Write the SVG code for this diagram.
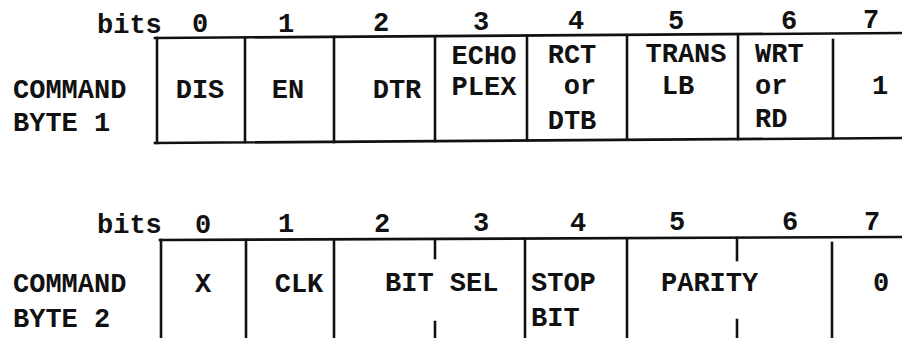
<svg xmlns="http://www.w3.org/2000/svg" width="902" height="338" viewBox="0 0 902 338">
<style>
text{font-family:"Liberation Mono","Courier New",monospace;font-weight:bold;font-size:27px;fill:#111}
.m{text-anchor:middle}
.ln{stroke:#111;stroke-width:2.6;fill:none;stroke-linecap:square}
</style>
<rect width="902" height="338" fill="#fff"/>
<g id="byte1">
  <g id="labels1">
    <text x="97" y="33">bits</text>
    <text class="m" x="200" y="32">0</text>
    <text class="m" x="286" y="32">1</text>
    <text class="m" x="381" y="31">2</text>
    <text class="m" x="481" y="30">3</text>
    <text class="m" x="576" y="29">4</text>
    <text class="m" x="676" y="29">5</text>
    <text class="m" x="789" y="29">6</text>
    <text class="m" x="871" y="28">7</text>
    <text x="13" y="98">COMMAND</text>
    <text x="13" y="131">BYTE 1</text>
  </g>
  <g id="frame1" class="ln">
    <line x1="155" y1="38" x2="902" y2="33"/>
    <line x1="155" y1="143" x2="902" y2="138"/>
    <line x1="157" y1="38" x2="157" y2="143"/>
    <line x1="245" y1="38" x2="245" y2="142"/>
    <line x1="334" y1="37" x2="334" y2="142"/>
    <line x1="435" y1="37" x2="435" y2="141"/>
    <line x1="527" y1="36" x2="527" y2="140"/>
    <line x1="627" y1="36" x2="627" y2="139"/>
    <line x1="738" y1="35" x2="738" y2="139"/>
    <line x1="833" y1="40" x2="833" y2="138"/>
  </g>
  <g id="cell-dis"><text class="m" x="200" y="98">DIS</text></g>
  <g id="cell-en"><text class="m" x="288" y="98">EN</text></g>
  <g id="cell-dtr"><text class="m" x="397" y="98">DTR</text></g>
  <g id="cell-echoplex"><text class="m" x="484" y="64">ECHO</text><text class="m" x="484" y="95">PLEX</text></g>
  <g id="cell-rct"><text class="m" x="572" y="63">RCT</text><text class="m" x="580" y="94">or</text><text class="m" x="572" y="129">DTB</text></g>
  <g id="cell-trans"><text class="m" x="686" y="62">TRANS</text><text class="m" x="678" y="94">LB</text></g>
  <g id="cell-wrt"><text x="755" y="62">WRT</text><text x="755" y="94">or</text><text x="755" y="127">RD</text></g>
  <g id="cell-b7"><text class="m" x="880" y="94">1</text></g>
</g>
<g id="byte2">
  <g id="labels2">
    <text x="97" y="233">bits</text>
    <text class="m" x="203" y="233">0</text>
    <text class="m" x="286" y="232">1</text>
    <text class="m" x="382" y="232">2</text>
    <text class="m" x="481" y="231">3</text>
    <text class="m" x="578" y="231">4</text>
    <text class="m" x="677" y="230">5</text>
    <text class="m" x="790" y="230">6</text>
    <text class="m" x="872" y="230">7</text>
    <text x="13" y="292">COMMAND</text>
    <text x="13" y="327">BYTE 2</text>
  </g>
  <g id="frame2" class="ln">
    <line x1="160" y1="240" x2="902" y2="237"/>
    <line x1="161" y1="240" x2="161" y2="340"/>
    <line x1="246" y1="240" x2="246" y2="340"/>
    <line x1="334" y1="240" x2="334" y2="340"/>
    <line x1="435" y1="240" x2="435" y2="258"/>
    <line x1="435" y1="322" x2="435" y2="340"/>
    <line x1="525" y1="239" x2="525" y2="340"/>
    <line x1="627" y1="239" x2="627" y2="340"/>
    <line x1="737" y1="238" x2="737" y2="260"/>
    <line x1="737" y1="320" x2="737" y2="340"/>
    <line x1="832" y1="243" x2="832" y2="340"/>
  </g>
  <g id="cell-x"><text class="m" x="203" y="292">X</text></g>
  <g id="cell-clk"><text class="m" x="299" y="292">CLK</text></g>
  <g id="cell-bitsel"><text x="385" y="291">BIT SEL</text></g>
  <g id="cell-stop"><text x="531" y="291">STOP</text><text x="531" y="326">BIT</text></g>
  <g id="cell-parity"><text x="661" y="291">PARITY</text></g>
  <g id="cell-b7b"><text class="m" x="881" y="291">0</text></g>
</g>
</svg>
